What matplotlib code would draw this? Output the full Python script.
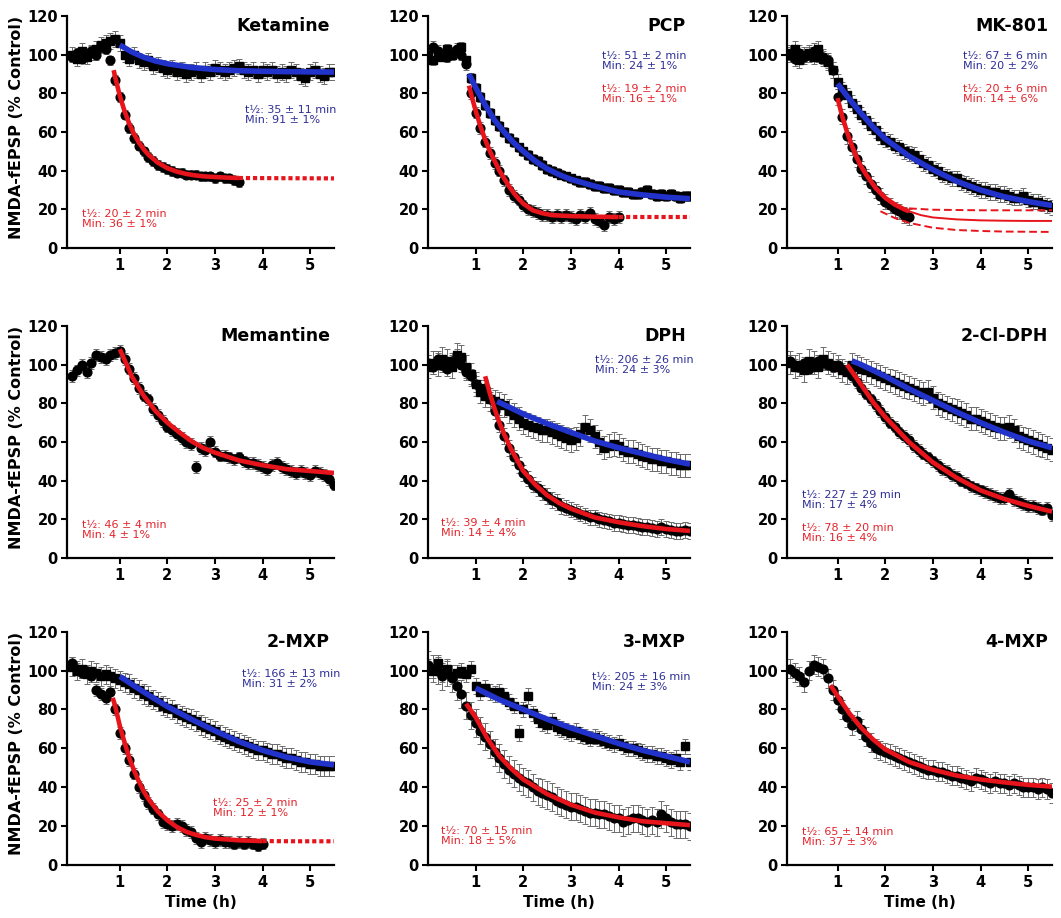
import numpy as np
import matplotlib
matplotlib.use("Agg")
import matplotlib.pyplot as plt

plt.rcParams['font.family'] = ['DejaVu Sans']
plt.rcParams['font.weight'] = 'bold'

STEP = 0.1  # sampling interval of the recordings (h)

# ---------------- Ketamine ----------------
ket_red = [99, 101, 98, 100, 102, 100, 104, 103, 97, 87, 78, 69, 62, 57, 53, 50, 47, 45, 43, 42,
           41, 40, 39, 39, 38, 38, 38, 37, 37, 37, 36, 37, 36, 36, 35, 34]
ket_blue = [100, 98, 102, 99, 101, 103, 105, 106, 107, 108, 106, 100, 98, 100, 97, 96, 97, 94, 95, 93,
            92, 93, 91, 92, 90, 91, 92, 90, 92, 91, 93, 92, 91, 92, 93, 94, 92, 91, 92, 90,
            92, 91, 92, 90, 91, 90, 92, 91, 89, 88, 91, 92, 90, 89, 91, 91]
ket_red_fit_t = [0.87, 0.9, 1.0, 1.1, 1.2, 1.3, 1.4, 1.5, 1.6, 1.8, 2.0, 2.2, 2.4, 2.6, 2.8, 3.0, 3.25, 3.5]
ket_red_fit_y = [92, 88.6, 78.7, 70.7, 64.2, 58.9, 54.6, 51.1, 48.3, 44.1, 41.3, 39.5, 38.3, 37.5, 37.0, 36.7, 36.4, 36.2]
ket_red_ext_t = [3.5, 4.5, 5.5]
ket_red_ext_y = [36.2, 36.1, 36.0]
ket_blue_fit_t = [1.0, 1.25, 1.5, 1.75, 2.0, 2.5, 3.0, 3.5, 4.0, 4.5, 5.0, 5.5]
ket_blue_fit_y = [105, 101.4, 98.7, 96.7, 95.3, 93.4, 92.3, 91.7, 91.4, 91.2, 91.1, 91.0]

# ---------------- PCP ----------------
pcp_red = [98, 104, 102, 100, 99, 101, 103, 100, 95, 80, 70, 62, 55, 49, 44, 40, 35, 30, 27, 25,
           22, 20, 19, 18, 17, 17, 16, 17, 16, 17, 16, 15, 17, 16, 18, 15, 14, 12, 16, 15, 16]
pcp_blue = [100, 97, 101, 99, 103, 100, 102, 104, 97, 88, 83, 78, 74, 70, 66, 63, 60, 57, 55, 52,
            50, 48, 46, 45, 43, 41, 40, 39, 38, 37, 36, 35, 34, 34, 33, 32, 32, 31, 31, 30,
            30, 29, 29, 28, 28, 29, 30, 28, 27, 28, 27, 28, 27, 26, 27, 27]
pcp_red_fit_t = [0.86, 0.9, 1.0, 1.1, 1.2, 1.3, 1.4, 1.5, 1.6, 1.7, 1.8, 1.9, 2.0, 2.2, 2.4, 2.6, 3.0, 3.5, 4.0]
pcp_red_fit_y = [84, 80, 71, 63, 56, 50, 45, 40, 36, 32, 28.5, 25.5, 23, 19.5, 18, 17, 16.5, 16.2, 16]
pcp_red_ext_t = [4.0, 4.75, 5.5]
pcp_red_ext_y = [16, 16, 16]
pcp_blue_fit_t = [0.86, 1.0, 1.2, 1.4, 1.6, 1.8, 2.0, 2.25, 2.5, 2.75, 3.0, 3.5, 4.0, 4.5, 5.0, 5.5]
pcp_blue_fit_y = [90, 83, 74, 66, 60, 54.5, 50, 45, 41, 38, 35.5, 32, 29, 27.5, 26.3, 25.5]

# ---------------- MK-801 ----------------
mk_red = [100, 98, 101, 99, 100, 102, 100, 99, 97, 92, 78, 68, 58, 52, 46, 41, 37, 33, 30, 27,
          24, 22, 20, 19, 17, 16]
mk_blue = [101, 103, 97, 100, 101, 99, 103, 98, 96, 92, 86, 82, 79, 75, 72, 69, 66, 63, 61, 58,
           56, 55, 53, 52, 50, 49, 48, 46, 44, 43, 41, 40, 38, 37, 36, 36, 34, 33, 32, 31,
           30, 30, 29, 29, 28, 28, 27, 26, 26, 27, 25, 24, 24, 23, 22, 21]
mk_red_fit_t = [1.0, 1.1, 1.2, 1.3, 1.4, 1.5, 1.6, 1.7, 1.8, 1.9, 2.0, 2.2, 2.4, 2.5]
mk_red_fit_y = [77.5, 68, 60, 53, 47, 42, 38, 34.5, 31, 28.5, 26, 22.5, 20, 19]
mk_red_thin_t = [2.5, 2.75, 3.0, 3.5, 4.0, 4.5, 5.0, 5.5]
mk_red_thin_y = [19, 17, 15.8, 14.8, 14.3, 14.1, 14, 14]
mk_red_hi_t = [2.5, 3.0, 4.0, 5.5]
mk_red_hi_y = [20.5, 19.8, 19.5, 19.5]
mk_red_lo_t = [1.9, 2.2, 2.5, 3.0, 3.5, 4.0, 4.5, 5.0, 5.5]
mk_red_lo_y = [19, 15.5, 13, 10.5, 9.3, 8.8, 8.5, 8.4, 8.3]
mk_blue_fit_t = [1.0, 1.25, 1.5, 1.75, 2.0, 2.5, 3.0, 3.5, 4.0, 4.5, 5.0, 5.5]
mk_blue_fit_y = [85, 77, 69.5, 62.5, 56.5, 47.5, 40.5, 34.5, 30, 26.5, 24, 22]

# ---------------- Memantine ----------------
mem_red = [94, 97, 100, 96, 101, 105, 104, 103, 105, 106, 107, 103, 98, 93, 88, 84, 82, 77, 74, 71,
           68, 66, 64, 62, 60, 59, 47, 57, 56, 60, 55, 53, 53, 52, 51, 52, 50, 49, 49, 48,
           47, 46, 48, 49, 47, 46, 45, 44, 45, 44, 43, 45, 44, 43, 41, 38]
mem_red_fit_t = [1.0, 1.25, 1.5, 1.75, 2.0, 2.25, 2.5, 2.75, 3.0, 3.5, 4.0, 4.5, 5.0, 5.5]
mem_red_fit_y = [108, 94, 84, 76, 70, 65, 60.5, 57, 54.5, 50.5, 48, 46, 45, 44]

# ---------------- DPH ----------------
dph_red = [101, 99, 103, 100, 98, 102, 104, 100, 96, 94, 90, 88, 88, 82, 76, 69, 63, 57, 52, 48,
           44, 41, 38, 36, 34, 32, 30, 29, 27, 26, 25, 24, 23, 22, 21, 21, 20, 19.5, 19, 18,
           18, 17.5, 17, 17, 16.5, 16, 16, 15.5, 15, 16, 15, 14.5, 14, 14, 14.5, 14]
dph_blue = [99, 101, 100, 103, 102, 99, 105, 104, 99, 95, 90, 86, 84, 82, 81, 80, 79, 76, 74, 72,
            70, 69, 68, 67, 66, 66, 65, 64, 63, 62, 61, 62, 64, 68, 66, 63, 60, 57, 58, 59,
            58, 56, 55, 55, 54, 53, 52, 51, 51, 50, 50, 49, 49, 48, 48, 48]
dph_red_fit_t = [1.2, 1.3, 1.4, 1.5, 1.6, 1.75, 2.0, 2.25, 2.5, 2.75, 3.0, 3.5, 4.0, 4.5, 5.0, 5.5]
dph_red_fit_y = [94, 85, 77, 70, 64, 56, 45, 38, 32.5, 28.5, 25.5, 21, 18.5, 16.5, 15, 14]
dph_blue_fit_t = [1.45, 1.75, 2.0, 2.5, 3.0, 3.5, 4.0, 4.5, 5.0, 5.5]
dph_blue_fit_y = [81, 77.5, 74.5, 69.5, 65, 60.5, 57, 54, 51, 48.5]

# ---------------- 2-Cl-DPH ----------------
cl_red = [102, 100, 99, 101, 98, 100, 102, 101, 100, 99, 100, 98, 97, 94, 91, 88, 85, 82, 79, 76,
          73, 70, 68, 65, 63, 61, 58, 56, 54, 52, 50, 48, 46, 45, 43, 42, 40, 39, 37, 36,
          35, 34, 33, 32, 31, 31, 33, 30, 29, 28, 27, 27, 26, 25, 26, 22]
cl_blue = [101, 99, 100, 97, 102, 101, 99, 103, 101, 100, 99, 97, 96, 100, 99, 98, 97, 96, 95, 94,
           93, 92, 91, 90, 89, 88, 87, 86, 85, 86, 83, 80, 79, 78, 77, 76, 75, 74, 72, 72,
           71, 70, 69, 68, 67, 67, 68, 66, 63, 62, 61, 60, 59, 58, 57, 56]
cl_red_fit_t = [1.2, 1.5, 1.75, 2.0, 2.5, 3.0, 3.5, 4.0, 4.5, 5.0, 5.5]
cl_red_fit_y = [100, 89.5, 80.5, 73, 60, 49.5, 41.5, 35, 30.5, 27, 24]
cl_blue_fit_t = [1.3, 1.5, 2.0, 2.5, 3.0, 3.5, 4.0, 4.5, 5.0, 5.5]
cl_blue_fit_y = [102, 100, 94, 87.5, 81.5, 75.5, 70, 65, 60.5, 57]

# ---------------- 2-MXP ----------------
m2_red = [104, 101, 99, 100, 97, 90, 88, 86, 89, 80, 68, 60, 54, 47, 40, 36, 32, 29, 26, 22,
          21, 20, 21, 20, 18, 17, 14, 12, 14, 13, 12, 13, 12, 12, 11, 12, 11, 12, 11, 10, 11]
m2_blue = [102, 100, 101, 98, 100, 99, 97, 98, 97, 96, 95, 94, 93, 91, 90, 88, 87, 85, 84, 82,
           81, 80, 78, 77, 76, 75, 74, 72, 71, 70, 69, 67, 66, 65, 64, 63, 62, 61, 60, 59,
           59, 58, 57, 57, 56, 55, 55, 54, 53, 53, 52, 52, 51, 51, 51, 51]
m2_red_fit_t = [0.85, 0.9, 1.0, 1.1, 1.2, 1.3, 1.4, 1.5, 1.6, 1.8, 2.0, 2.2, 2.4, 2.6, 2.8, 3.0, 3.5, 4.0]
m2_red_fit_y = [86, 82, 71.5, 63, 55, 48.5, 43, 38, 34, 27.5, 23, 19.5, 17, 15.5, 14.3, 13.6, 12.7, 12.3]
m2_red_ext_t = [4.0, 4.75, 5.5]
m2_red_ext_y = [12.3, 12.2, 12.2]
m2_blue_fit_t = [1.0, 1.5, 2.0, 2.5, 3.0, 3.5, 4.0, 4.5, 5.0, 5.5]
m2_blue_fit_y = [97, 89, 81.5, 75, 69, 63.5, 59, 55.5, 53, 51.5]

# ---------------- 3-MXP ----------------
m3_red = [103, 101, 100, 97, 99, 96, 92, 88, 82, 77, 73, 69, 66, 62, 58, 55, 52, 49, 47, 45,
          43, 42, 40, 38, 37, 36, 35, 33, 32, 31, 30, 30, 29, 28, 27, 27, 26, 26, 25, 24,
          24, 22, 23, 24, 24, 23, 22, 23, 22, 26, 24, 22, 21, 21, 21, 20]
m3_blue = [102, 100, 104, 98, 101, 97, 99, 100, 98, 101, 92, 89, 91, 89, 88, 89, 87, 84, 82, 68,
           80, 87, 78, 75, 73, 72, 74, 71, 70, 69, 68, 69, 67, 66, 65, 66, 65, 64, 63, 62,
           63, 61, 60, 60, 59, 58, 57, 57, 56, 56, 55, 54, 55, 53, 61, 53]
m3_red_fit_t = [0.8, 1.0, 1.25, 1.5, 1.75, 2.0, 2.5, 3.0, 3.5, 4.0, 4.5, 5.0, 5.5]
m3_red_fit_y = [83, 76, 65, 56, 49.5, 44, 36.5, 31, 27, 24.5, 22.5, 21.5, 20.5]
m3_blue_fit_t = [1.0, 1.5, 2.0, 2.5, 3.0, 3.5, 4.0, 4.5, 5.0, 5.5]
m3_blue_fit_y = [91, 85, 80, 75, 70.5, 66.5, 62.5, 59, 56, 53]

# ---------------- 4-MXP ----------------
m4_red = [101, 99, 97, 94, 100, 103, 102, 101, 96, 90, 85, 80, 76, 72, 74, 70, 66, 63, 60, 59,
          58, 57, 56, 55, 54, 53, 52, 51, 50, 49, 49, 48, 48, 47, 46, 46, 45, 44, 43, 45,
          44, 43, 42, 43, 42, 42, 41, 42, 41, 40, 40, 40, 39, 40, 39, 37]
m4_red_fit_t = [0.85, 1.0, 1.25, 1.5, 1.75, 2.0, 2.5, 3.0, 3.5, 4.0, 4.5, 5.0, 5.5]
m4_red_fit_y = [92.5, 87, 78, 70.5, 64.5, 59.5, 53, 49, 46, 44, 42.5, 41.2, 40.3]

# typical SEM of each series (%)
sem = {'ket': (2.5, 4), 'pcp': (3, 2.5), 'mk': (4, 4), 'mem': (3, None), 'dph': (4, 6),
       'cl': (3, 6), 'm2': (3, 5), 'm3': (7, 4), 'm4': (5, None)}

titles = ['Ketamine', 'PCP', 'MK-801', 'Memantine', 'DPH', '2-Cl-DPH', '2-MXP', '3-MXP', '4-MXP']
red_notes = ['t½: 20 ± 2 min\nMin: 36 ± 1%', 't½: 19 ± 2 min\nMin: 16 ± 1%', 't½: 20 ± 6 min\nMin: 14 ± 6%',
             't½: 46 ± 4 min\nMin: 4 ± 1%', 't½: 39 ± 4 min\nMin: 14 ± 4%', 't½: 78 ± 20 min\nMin: 16 ± 4%',
             't½: 25 ± 2 min\nMin: 12 ± 1%', 't½: 70 ± 15 min\nMin: 18 ± 5%', 't½: 65 ± 14 min\nMin: 37 ± 3%']
blue_notes = ['t½: 35 ± 11 min\nMin: 91 ± 1%', 't½: 51 ± 2 min\nMin: 24 ± 1%', 't½: 67 ± 6 min\nMin: 20 ± 2%',
              None, 't½: 206 ± 26 min\nMin: 24 ± 3%', 't½: 227 ± 29 min\nMin: 17 ± 4%',
              't½: 166 ± 13 min\nMin: 31 ± 2%', 't½: 205 ± 16 min\nMin: 24 ± 3%', None]
red_note_xy = [(0.2, 20), (3.65, 85), (3.63, 85), (0.2, 19.7), (0.28, 20.7), (0.25, 18.3),
               (2.95, 34.5), (0.28, 20), (0.25, 19.7)]
blue_note_xy = [(3.62, 74), (3.65, 102), (3.63, 102), None, (3.5, 105), (0.25, 35),
                (3.56, 101), (3.44, 99.4), None]

panels = [
    dict(key='ket', red=ket_red, blue=ket_blue, rfit=(ket_red_fit_t, ket_red_fit_y),
         rext=(ket_red_ext_t, ket_red_ext_y), bfit=(ket_blue_fit_t, ket_blue_fit_y)),
    dict(key='pcp', red=pcp_red, blue=pcp_blue, rfit=(pcp_red_fit_t, pcp_red_fit_y),
         rext=(pcp_red_ext_t, pcp_red_ext_y), bfit=(pcp_blue_fit_t, pcp_blue_fit_y)),
    dict(key='mk', red=mk_red, blue=mk_blue, rfit=(mk_red_fit_t, mk_red_fit_y),
         bfit=(mk_blue_fit_t, mk_blue_fit_y)),
    dict(key='mem', red=mem_red, blue=None, rfit=(mem_red_fit_t, mem_red_fit_y), bfit=None),
    dict(key='dph', red=dph_red, blue=dph_blue, rfit=(dph_red_fit_t, dph_red_fit_y),
         bfit=(dph_blue_fit_t, dph_blue_fit_y)),
    dict(key='cl', red=cl_red, blue=cl_blue, rfit=(cl_red_fit_t, cl_red_fit_y),
         bfit=(cl_blue_fit_t, cl_blue_fit_y)),
    dict(key='m2', red=m2_red, blue=m2_blue, rfit=(m2_red_fit_t, m2_red_fit_y),
         rext=(m2_red_ext_t, m2_red_ext_y), bfit=(m2_blue_fit_t, m2_blue_fit_y)),
    dict(key='m3', red=m3_red, blue=m3_blue, rfit=(m3_red_fit_t, m3_red_fit_y),
         bfit=(m3_blue_fit_t, m3_blue_fit_y)),
    dict(key='m4', red=m4_red, blue=None, rfit=(m4_red_fit_t, m4_red_fit_y), bfit=None),
]

RED_LINE = '#e8141b'
BLUE_LINE = '#2233cc'
RED_TXT = '#e3242b'
BLUE_TXT = '#2e2f96'

W, H = 1061, 918
fig = plt.figure(figsize=(W / 100, H / 100), dpi=100)
cols = [(67, 334, -0.11), (428, 690, 0.0), (787, 1052, -0.06)]
rows = [(16, 248), (326, 558), (631.7, 865)]

for i, p in enumerate(panels):
    r, c = divmod(i, 3)
    l, rt, xmin = cols[c]
    top, bot = rows[r]
    ax = fig.add_axes([l / W, 1 - bot / H, (rt - l) / W, (bot - top) / H])
    er, eb = sem[p['key']]

    def draw_pts(vals, err, marker, ms):
        t = np.arange(len(vals)) * STEP
        ax.errorbar(t, vals, yerr=err, fmt='none', ecolor='0.42', elinewidth=0.7,
                    capsize=2.2, capthick=0.7, zorder=1)
        ax.plot(t, vals, linestyle='none', marker=marker, color='black', ms=ms, zorder=2)

    if p['blue'] is not None:
        draw_pts(p['blue'], eb, 's', 6.0)
    draw_pts(p['red'], er, 'o', 6.3)

    if p['bfit'] is not None:
        ax.plot(*p['bfit'], color=BLUE_LINE, lw=4.0, zorder=4, solid_capstyle='butt')
    ax.plot(*p['rfit'], color=RED_LINE, lw=3.3, zorder=5, solid_capstyle='butt')
    if 'rext' in p:
        ax.plot(*p['rext'], color=RED_LINE, lw=3.0, linestyle=(0, (1, 0.7)), zorder=5)
    if p['key'] == 'mk':
        ax.plot(mk_red_thin_t, mk_red_thin_y, color=RED_LINE, lw=1.4, zorder=5)
        ax.plot(mk_red_hi_t, mk_red_hi_y, color=RED_LINE, lw=1.4, linestyle=(0, (4, 2)), zorder=5)
        ax.plot(mk_red_lo_t, mk_red_lo_y, color=RED_LINE, lw=1.4, linestyle=(0, (4, 2)), zorder=5)

    ax.set_xlim(xmin, 5.5)
    ax.set_ylim(0, 120)
    ax.set_xticks([1, 2, 3, 4, 5])
    ax.set_yticks([0, 20, 40, 60, 80, 100, 120])
    for s in ('top', 'right'):
        ax.spines[s].set_visible(False)
    for s in ('left', 'bottom'):
        ax.spines[s].set_linewidth(1.6)
    ax.tick_params(direction='out', length=4, width=1.5, labelsize=10.5, pad=2.5)
    ax.tick_params(axis='x', pad=3.5)

    ax.text(0.985, 0.995, titles[i], transform=ax.transAxes, ha='right', va='top',
            fontsize=12.5, fontweight='bold')
    rx, ry = red_note_xy[i]
    ax.text(rx, ry, red_notes[i], color=RED_TXT, fontsize=8, fontweight='normal',
            ha='left', va='top', linespacing=1.0)
    if blue_notes[i] is not None:
        bx, by = blue_note_xy[i]
        ax.text(bx, by, blue_notes[i], color=BLUE_TXT, fontsize=8, fontweight='normal',
                ha='left', va='top', linespacing=1.0)

    if c == 0:
        ax.set_ylabel('NMDA-fEPSP (% Control)', fontsize=11.5, fontweight='bold')
        ax.yaxis.set_label_coords(-0.16, 0.52)
    if r == 2:
        ax.set_xlabel('Time (h)', fontsize=11, fontweight='bold')
        ax.xaxis.set_label_coords(0.5, -0.13)

fig.savefig('out.png', dpi=100)
